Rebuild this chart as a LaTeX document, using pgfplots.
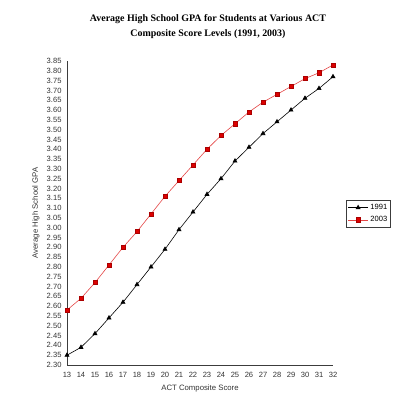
\documentclass[border=0pt]{standalone}
\usepackage{pgfplots}
\pgfplotsset{compat=1.18}
\usepackage{fontspec}
\setmainfont{Liberation Sans}
\newfontfamily\titlefont{Liberation Serif}
\definecolor{redline}{RGB}{228,70,70}
\definecolor{redmark}{RGB}{220,0,0}
\definecolor{rededge}{RGB}{170,0,0}
\definecolor{axgray}{RGB}{60,60,60}
\begin{document}
\begin{tikzpicture}
\path[use as bounding box] (-67bp,-35bp) rectangle (332bp,365bp);
\begin{axis}[
  scale only axis,
  width=266bp, height=304bp,
  xmin=13, xmax=32, ymin=2.30, ymax=3.85,
  axis lines=left,
  axis line style={-, draw=axgray, line width=0.8pt},
  xtick={13,14,...,32},
  ytick={2.30,2.35,...,3.86},
  major tick length=0pt,
  tick label style={font=\fontsize{7.6}{9}\selectfont, text=black!80},
  /pgf/number format/assume math mode=true,
  yticklabel={\pgfmathprintnumber[fixed,fixed zerofill,precision=2]{\tick}},
  yticklabel style={xshift=-2bp},
  xticklabel style={yshift=-4bp},
  xlabel={ACT Composite Score},
  ylabel={Average High School GPA},
  label style={font=\fontsize{7.8}{9}\selectfont, text=black!80},
  xlabel style={at={(axis description cs:0.5,0)}, anchor=north, yshift=-16bp},
  ylabel style={at={(axis description cs:0,0.5)}, anchor=south, yshift=24bp},
  title={Average High School GPA for Students at Various ACT\\Composite Score Levels (1991, 2003)},
  title style={align=center, font=\titlefont\bfseries\fontsize{10}{14.5}\selectfont, at={(axis description cs:0.53,1)}, anchor=south, yshift=13bp},
  legend style={at={(axis description cs:1.049,0.543)}, anchor=north west, draw=axgray, line width=0.6pt,
    font=\fontsize{7.6}{9}\selectfont, inner xsep=1.5bp, inner ysep=2bp, row sep=1.5bp},
  legend cell align=left,
  legend image code/.code={\draw[#1, mark repeat=2, mark phase=2] plot coordinates {(0bp,0bp) (10bp,0bp) (20bp,0bp)};},
  clip=false,
]
\addplot[black, line width=0.6pt, mark=triangle*, mark size=2.3bp, mark options={fill=black}] coordinates {
(13,2.35) (14,2.39) (15,2.46) (16,2.54) (17,2.62) (18,2.71) (19,2.80) (20,2.89) (21,2.99) (22,3.08)
(23,3.17) (24,3.25) (25,3.34) (26,3.41) (27,3.48) (28,3.54) (29,3.60) (30,3.66) (31,3.71) (32,3.77)};
\addlegendentry{1991}
\addplot[redline, line width=0.6pt, mark=square*, mark size=2.1bp, mark options={fill=redmark, draw=rededge}] coordinates {
(13,2.58) (14,2.64) (15,2.72) (16,2.81) (17,2.90) (18,2.98) (19,3.07) (20,3.16) (21,3.24) (22,3.32)
(23,3.40) (24,3.47) (25,3.53) (26,3.59) (27,3.64) (28,3.68) (29,3.72) (30,3.76) (31,3.79) (32,3.83)};
\addlegendentry{2003}
\end{axis}
\end{tikzpicture}
\end{document}
